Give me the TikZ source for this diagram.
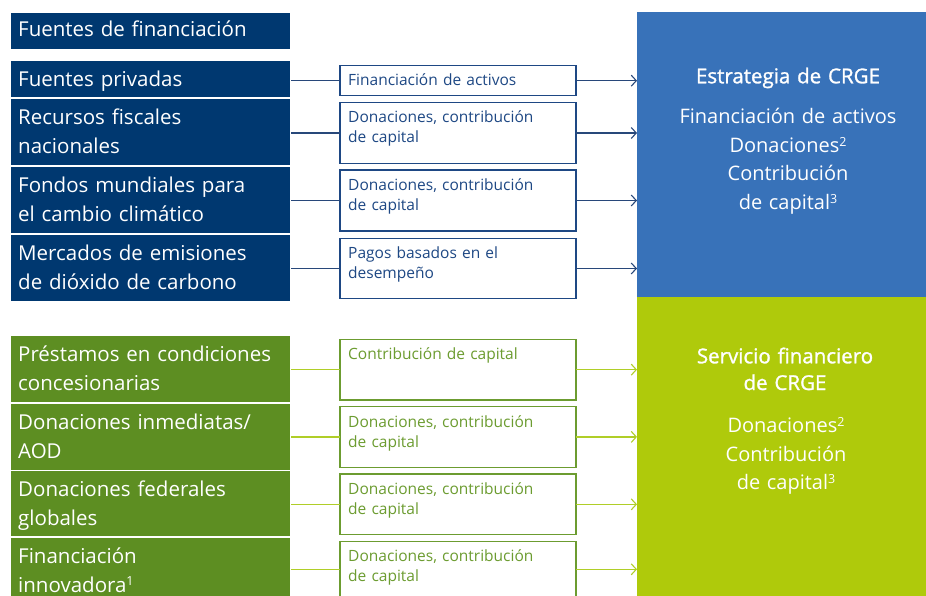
\documentclass[tikz,border=0pt]{standalone}
\usepackage{fontspec}
\setmainfont{Open Sans}
\newfontfamily\semibfont[FakeBold=1.3]{Open Sans}
\usetikzlibrary{arrows.meta}
\definecolor{navy}{RGB}{0,56,112}
\definecolor{midblue}{RGB}{30,72,132}
\definecolor{rightblue}{RGB}{56,114,185}
\definecolor{leftgreen}{RGB}{93,142,34}
\definecolor{rightgreen}{RGB}{175,202,11}
\definecolor{midgreen}{RGB}{108,156,48}
\definecolor{linegreen}{RGB}{176,206,40}
\definecolor{lineblue}{RGB}{40,72,122}
\newcommand\supnum[1]{\raisebox{0.32em}{\fontsize{12.5}{12.5}\selectfont #1}}
\begin{document}
\begin{tikzpicture}[x=1pt,y=-1pt,
  lbox/.style={anchor=north west, inner sep=0pt, outer sep=0pt, minimum width=279pt, minimum height=#1},
  navybox/.style={lbox=#1, fill=navy},
  greenbox/.style={lbox=#1, fill=leftgreen},
  mbox/.style={anchor=north west, inner sep=0pt, outer sep=0pt, minimum width=236pt, minimum height=#1, fill=white, line width=1.2pt},
  mblue/.style={mbox=#1, draw=midblue},
  mgreen/.style={mbox=#1, draw=midgreen},
  ltxt/.style={anchor=base west, inner sep=0pt, text=white, text width=270pt, align=left, font=\fontsize{20.5}{29}\selectfont},
  mtxt/.style={anchor=base west, inner sep=0pt, text width=225pt, align=left, font=\fontsize{15.5}{20}\selectfont},
  rtitle/.style={anchor=base, inner sep=0pt, text=white, text width=280pt, align=center, font=\fontsize{20.5}{26.7}\semibfont},
  rtxt/.style={anchor=base, inner sep=0pt, text=white, text width=280pt, align=center, font=\fontsize{20}{28.5}\selectfont},
  bline/.style={draw=lineblue, line width=1.2pt},
  gline/.style={draw=linegreen, line width=1.2pt},
  barr/.style={bline, -{Straight Barb[length=5pt,width=11pt,line width=1.1pt]}},
  garr/.style={gline, -{Straight Barb[length=5pt,width=11pt,line width=1.1pt]}}
]
\useasboundingbox (0,0) rectangle (926,596);
\clip (0,0) rectangle (926,596);

% right boxes
\node[anchor=north west, inner sep=0pt, outer sep=0pt, minimum width=289pt, minimum height=285pt, fill=rightblue] (RB) at (637,12) {};
\node[anchor=north west, inner sep=0pt, outer sep=0pt, minimum width=289pt, minimum height=303pt, fill=rightgreen] (RG) at (637,297) {};
\node[rtitle] (RBt) at (788,83.3) {Estrategia de CRGE};
\node[rtxt] (RBb) at (788,124) {Financiación de activos\\Donaciones\supnum{2}\\Contribución\\de capital\supnum{3}};
\node[rtitle] (RGt) at (785,363.3) {Servicio financiero\\de CRGE};
\node[rtxt] (RGb) at (786,432.7) {Donaciones\supnum{2}\\Contribución\\de capital\supnum{3}};

% left boxes
\node[navybox=36pt] (h) at (11,13) {};
\node[ltxt] (ht) at (18,37) {Fuentes de financiación};
\node[navybox=36pt] (l1) at (11,61) {};
\node[navybox=66pt] (l2) at (11,99) {};
\node[navybox=66pt] (l3) at (11,167) {};
\node[navybox=66pt] (l4) at (11,235) {};
\node[greenbox=66pt] (g1) at (11,336) {};
\node[greenbox=66pt] (g2) at (11,404) {};
\node[greenbox=65pt] (g3) at (11,471) {};
\node[greenbox=70pt] (g4) at (11,538) {};
\node[ltxt] at (18,87) {Fuentes privadas};
\node[ltxt] at (18,124.5) {Recursos fiscales\\nacionales};
\node[ltxt] at (18,192.5) {Fondos mundiales para\\el cambio climático};
\node[ltxt] at (18,260.5) {Mercados de emisiones\\de dióxido de carbono};
\node[ltxt] at (18,361.5) {Préstamos en condiciones\\concesionarias};
\node[ltxt] at (18,429) {Donaciones inmediatas/\\AOD};
\node[ltxt] at (18,496) {Donaciones federales\\globales};
\node[ltxt] at (18,563) {Financiación\\innovadora\supnum{1}};

% middle boxes
\node[mblue=30pt] (m1) at (340,65.7) {};
\node[mblue=60.6pt] (m2) at (340,102.7) {};
\node[mblue=61pt] (m3) at (340,170) {};
\node[mblue=60.4pt] (m4) at (340,238.3) {};
\node[mgreen=60.7pt] (n1) at (340,339.3) {};
\node[mgreen=60.4pt] (n2) at (340,406.7) {};
\node[mgreen=60.7pt] (n3) at (340,474) {};
\node[mgreen=56pt] (n4) at (340,541.3) {};
\node[mtxt, text=midblue] at (348,86) {Financiación de activos};
\node[mtxt, text=midblue] at (348,123) {Donaciones, contribución\\de capital};
\node[mtxt, text=midblue] at (348,190.3) {Donaciones, contribución\\de capital};
\node[mtxt, text=midblue] at (348,258.6) {Pagos basados en el\\desempeño};
\node[mtxt, text=midgreen] at (348,359.6) {Contribución de capital};
\node[mtxt, text=midgreen] at (348,427) {Donaciones, contribución\\de capital};
\node[mtxt, text=midgreen] at (348,494.3) {Donaciones, contribución\\de capital};
\node[mtxt, text=midgreen] at (348,561.6) {Donaciones, contribución\\de capital};

% connectors
\foreach \l/\m in {l1/m1,l2/m2,l3/m3,l4/m4}{
  \draw[bline] ([xshift=1pt]\l.east |- \m.west) -- (\m.west);
  \draw[barr] (\m.east) -- (\m.east -| RB.west);
}
\foreach \l/\m in {g1/n1,g2/n2,g3/n3,g4/n4}{
  \draw[gline] ([xshift=1pt]\l.east |- \m.west) -- (\m.west);
  \draw[garr] (\m.east) -- (\m.east -| RG.west);
}
\end{tikzpicture}
\end{document}
